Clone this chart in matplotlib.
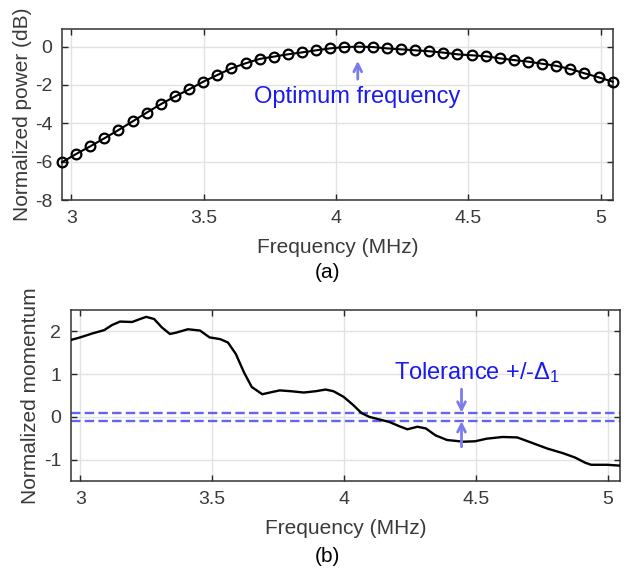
"""Normalized power and momentum versus drive frequency."""
import matplotlib
matplotlib.use("Agg")
import matplotlib.pyplot as plt
import numpy as np

plt.rcParams["font.family"] = ["Liberation Sans", "DejaVu Sans"]
plt.rcParams["mathtext.fontset"] = "custom"
plt.rcParams["mathtext.rm"] = "Liberation Sans"
plt.rcParams["mathtext.it"] = "Liberation Sans:italic"
plt.rcParams["axes.unicode_minus"] = False

# (a) normalized power, one marker per measured frequency
freq_a = np.linspace(2.965, 5.045, 40)
power_db = [-6.03, -5.60, -5.20, -4.78, -4.35, -3.90, -3.44, -3.00, -2.60, -2.23,
            -1.83, -1.48, -1.13, -0.87, -0.64, -0.52, -0.40, -0.30, -0.19, -0.09,
            -0.02, 0.00, -0.02, -0.09, -0.14, -0.19, -0.24, -0.31, -0.40, -0.45,
            -0.50, -0.61, -0.70, -0.78, -0.89, -1.00, -1.17, -1.39, -1.60, -1.83]

# (b) normalized momentum trace
freq_b = [2.965, 3.0, 3.045, 3.091, 3.121, 3.151, 3.197, 3.227, 3.25, 3.28,
          3.31, 3.34, 3.363, 3.408, 3.454, 3.49, 3.53, 3.56, 3.59, 3.62,
          3.65, 3.69, 3.726, 3.756, 3.80, 3.847, 3.892, 3.93, 3.96, 3.998,
          4.036, 4.066, 4.096, 4.134, 4.172, 4.21, 4.24, 4.278, 4.31, 4.346,
          4.39, 4.452, 4.497, 4.54, 4.60, 4.656, 4.709, 4.77, 4.83, 4.875,
          4.913, 4.936, 4.996, 5.045]
momentum = [1.80, 1.86, 1.95, 2.03, 2.15, 2.23, 2.22, 2.29, 2.34, 2.29,
            2.09, 1.94, 1.97, 2.05, 2.02, 1.86, 1.82, 1.74, 1.47, 1.05,
            0.70, 0.53, 0.58, 0.62, 0.60, 0.57, 0.60, 0.64, 0.60, 0.47,
            0.27, 0.09, 0.00, -0.06, -0.12, -0.22, -0.29, -0.23, -0.27, -0.43,
            -0.54, -0.58, -0.57, -0.51, -0.47, -0.48, -0.60, -0.74, -0.85, -0.95,
            -1.07, -1.12, -1.12, -1.14]
tolerance = 0.1

x_ticks = [3, 3.5, 4, 4.5, 5]
x_tick_labels = ["3", "3.5", "4", "4.5", "5"]
power_ticks = [-8, -6, -4, -2, 0]
momentum_ticks = [-1, 0, 1, 2]

TEXT = "#3a3a3a"
ANNOT = "#1a1aee"
ARROW = "#7b7bf0"


def style_axes(ax, yticks):
    ax.set_xlim(2.965, 5.045)
    ax.set_xticks(x_ticks)
    ax.set_xticklabels(x_tick_labels)
    ax.set_yticks(yticks)
    ax.grid(True, color="#e2e2e2", lw=1.0)
    ax.set_axisbelow(True)
    ax.tick_params(direction="in", length=4, width=1, top=True, right=True,
                   labelsize=14, colors="#262626", labelcolor=TEXT, pad=7)
    for s in ax.spines.values():
        s.set_color("#333333")
        s.set_linewidth(1.1)
    ax.set_xlabel("Frequency (MHz)", fontsize=15, color=TEXT)


fig = plt.figure(figsize=(6.28, 5.70), dpi=100)

# (a) power vs frequency
ax1 = fig.add_axes([0.0987, 0.6491, 0.877, 0.30])
ax1.plot(freq_a, power_db, "-o", color="black", lw=1.5, ms=7,
         mfc="none", mec="black", mew=1.6, clip_on=False, zorder=3)
ax1.set_ylim(-8, 0.92)
style_axes(ax1, power_ticks)
ax1.set_ylabel("Normalized power (dB)", fontsize=15, color=TEXT)
ax1.yaxis.set_label_coords(-0.054, 0.5)
ax1.xaxis.set_label_coords(0.5, -0.22)
ax1.annotate("", xy=(4.082, -0.6), xytext=(4.082, -1.84),
             arrowprops=dict(arrowstyle="->", color=ARROW, lw=2,
                             mutation_scale=14))
ax1.text(4.08, -2.62, "Optimum frequency", color=ANNOT, fontsize=17,
         ha="center", va="center")
fig.text(0.521, 1 - 273 / 570, "(a)", fontsize=15, ha="center", va="center",
         color="black")

# (b) momentum vs frequency
ax2 = fig.add_axes([0.113, 0.1561, 0.874, 0.30])
ax2.plot(freq_b, momentum, color="black", lw=1.7, zorder=3)
for lvl in (tolerance, -tolerance):
    ax2.axhline(lvl, color="#6464f2", lw=1.7, ls=(0, (4, 1.8)), zorder=2)
ax2.set_ylim(-1.5, 2.5)
style_axes(ax2, momentum_ticks)
ax2.set_ylabel("Normalized momentum", fontsize=15, color=TEXT)
ax2.yaxis.set_label_coords(-0.056, 0.5)
ax2.xaxis.set_label_coords(0.5, -0.22)
ax2.annotate("", xy=(4.445, tolerance), xytext=(4.445, 0.65),
             arrowprops=dict(arrowstyle="->", color=ARROW, lw=2,
                             mutation_scale=14, shrinkA=0, shrinkB=0))
ax2.annotate("", xy=(4.445, -tolerance), xytext=(4.445, -0.7),
             arrowprops=dict(arrowstyle="->", color=ARROW, lw=2,
                             mutation_scale=14, shrinkA=0, shrinkB=0))
ax2.text(4.505, 1.04, r"Tolerance +/-$\Delta_1$", color=ANNOT, fontsize=17,
         ha="center", va="center")
fig.text(0.522, 1 - 557 / 570, "(b)", fontsize=15, ha="center", va="center",
         color="black")

fig.savefig("out.png", dpi=100)
